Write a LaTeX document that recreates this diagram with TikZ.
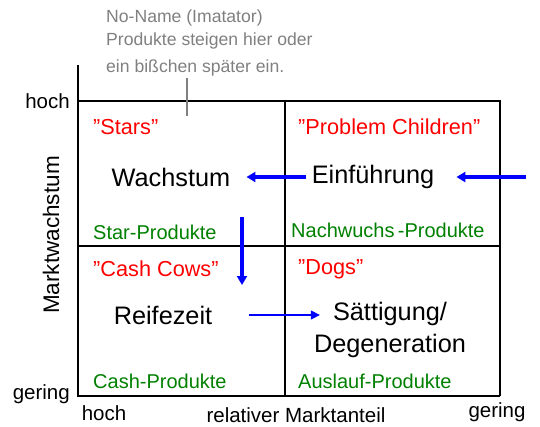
\documentclass[tikz,border=0pt]{standalone}
\usepackage{fontspec}
\setmainfont{Liberation Sans}
\usetikzlibrary{arrows.meta}
\definecolor{prodgreen}{RGB}{0,128,0}
\definecolor{notegray}{RGB}{128,128,128}
\tikzset{
  quadname/.style={text=red, font=\fontsize{21.7}{24}\selectfont, anchor=west, inner sep=0pt},
  product/.style={text=prodgreen, font=\fontsize{20}{22}\selectfont, anchor=west, inner sep=0pt},
  phase/.style={font=\fontsize{25.3}{29}\selectfont, inner sep=0pt},
  axislabel/.style={font=\fontsize{20.5}{24}\selectfont, inner sep=0pt},
  flow/.style={draw=blue, line width=3.2pt, -{Triangle[length=9pt,width=10pt]}},
  thinflow/.style={draw=blue, line width=1.4pt, -{Triangle[length=9pt,width=9pt]}},
}
\begin{document}
\begin{tikzpicture}[x=1pt,y=-1pt]
\useasboundingbox (0,0) rectangle (540,426);

% axes and the four fields
\draw[line width=1.6pt] (78,65) -- (78,396) -- (500,396);
\draw[line width=1.2pt] (78,101) -- (500,101) -- (500,396);
\draw[line width=1.2pt] (285,101) -- (285,396);
\draw[line width=1.2pt] (78,246) -- (500,246);

% axis labels
\node[axislabel, anchor=east] (yhoch) at (70,101) {hoch};
\node[axislabel, anchor=east] (ygering) at (70,394) {gering};
\node[axislabel, font=\fontsize{22.5}{26}\selectfont, rotate=90] (ytitle) at (51,235) {Marktwachstum};
\node[axislabel] (xhoch) at (104,413) {hoch};
\node[axislabel] (xtitle) at (296,415) {relativer Marktanteil};
\node[axislabel] (xgering) at (497,412) {gering};

% note on the no-name products
\node[text=notegray, font=\fontsize{17.6}{23}\selectfont, align=left, anchor=north west, inner sep=0pt]
  (note) at (106,10) {No-Name (Imatator)\\Produkte steigen hier oder\\[4pt]ein bißchen später ein.};
\draw[notegray, line width=1.3pt] (187,78) -- (187,116);

% field names
\node[quadname] (stars) at (93,127) {”Stars”};
\node[quadname] (problem) at (298,127) {”Problem Children”};
\node[quadname] (cows) at (93,269) {”Cash Cows”};
\node[quadname] (dogs) at (298,269) {”Dogs”};

% life cycle phases
\node[phase] (wachs) at (171,177) {Wachstum};
\node[phase] (einf) at (373,177) {Einführung};
\node[phase] (reife) at (163,315) {Reifezeit};
\node[phase] (saett) at (390,314) {Sättigung/};
\node[phase] (degen) at (390,346) {Degeneration};

% products
\node[product] (starprod) at (93,232) {Star-Produkte};
\node[product] (nachprod) at (291,230) {Nachwuchs\,-Produkte};
\node[product] (cashprod) at (93,381) {Cash-Produkte};
\node[product] (auslprod) at (298,381) {Auslauf-Produkte};

% flow through the cycle
\coordinate (entry) at (526,177);
\coordinate (droptop) at (242,217);
\coordinate (droptip) at (242,285);
\draw[flow, shorten >=22pt] (entry) -- (einf.east);
\draw[flow, shorten <=6pt, shorten >=16pt] (einf.west) -- (wachs.east);
\draw[flow] (droptop) -- (droptip);
\draw[thinflow, shorten <=37pt, shorten >=13pt] (reife.east) -- (reife.east -| saett.west);
\end{tikzpicture}
\end{document}
